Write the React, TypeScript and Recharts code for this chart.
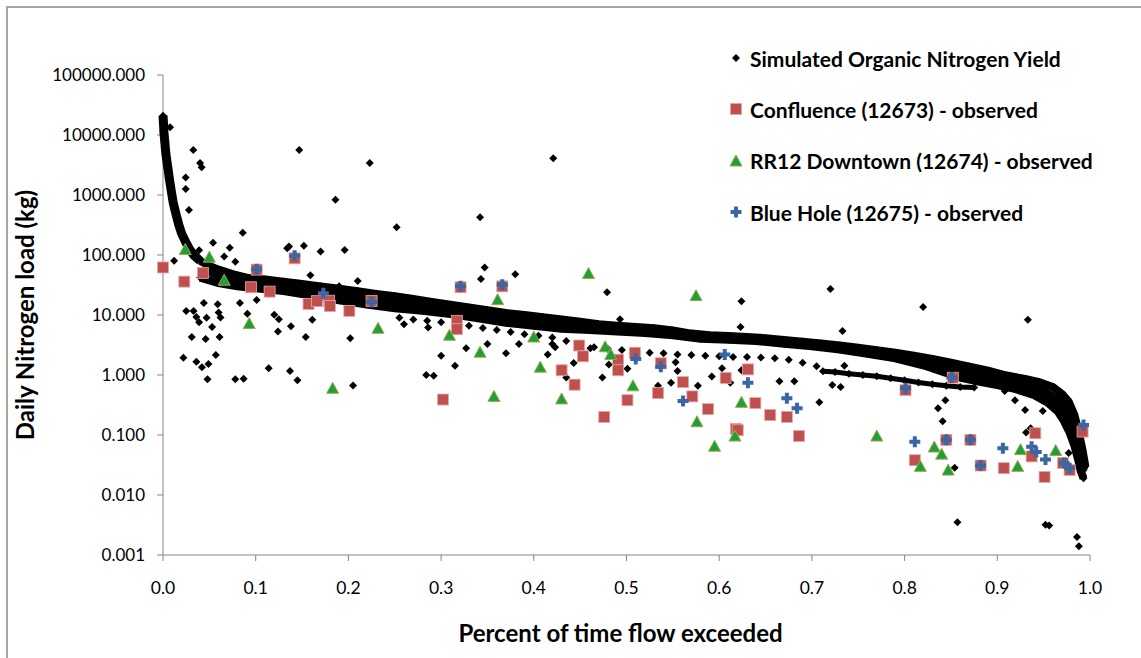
import React from "react";
import { ScatterChart, Scatter, XAxis, YAxis } from "recharts";

const FONT = "Lato, 'Open Sans', sans-serif";

// x = fraction of time the flow is exceeded, y = daily load in kg
const xTicks = [0, 0.1, 0.2, 0.3, 0.4, 0.5, 0.6, 0.7, 0.8, 0.9, 1.0];
const yTicks = [0.001, 0.01, 0.1, 1, 10, 100, 1000, 10000, 100000];

const seriesNames = [
  "Simulated Organic Nitrogen Yield",
  "Confluence (12673) - observed",
  "RR12 Downtown (12674) - observed",
  "Blue Hole (12675) - observed",
];

// simulated: steep head of the duration curve
const simHead = [
  [0.0, 21000], [0.0005, 16000], [0.001, 11000], [0.002, 7500], [0.003, 5000],
  [0.005, 3000], [0.007, 1800], [0.009, 1150], [0.011, 750], [0.014, 480],
  [0.017, 320], [0.02, 230], [0.024, 170], [0.028, 130], [0.033, 100], [0.04, 80],
];

// simulated: top edge of the dense band
const simUpper = [
  [0.04, 80], [0.05, 66], [0.06, 57], [0.075, 48], [0.09, 42], [0.11, 39], [0.13, 36],
  [0.15, 33], [0.17, 30], [0.19, 27.5], [0.21, 25], [0.23, 22.5], [0.25, 20.5],
  [0.27, 18.5], [0.29, 16.5], [0.31, 14.8], [0.33, 13.3], [0.35, 12], [0.37, 10.8],
  [0.39, 10], [0.41, 9.2], [0.43, 8.4], [0.45, 7.7], [0.47, 7.0], [0.49, 6.6],
  [0.51, 6.3], [0.53, 6.0], [0.55, 5.5], [0.57, 4.9], [0.59, 4.6], [0.61, 4.45],
  [0.63, 4.3], [0.65, 4.1], [0.67, 3.85], [0.69, 3.6], [0.71, 3.35], [0.73, 3.1],
  [0.75, 2.85], [0.77, 2.6], [0.79, 2.35], [0.81, 2.1], [0.83, 1.85], [0.85, 1.6],
  [0.87, 1.38], [0.89, 1.18], [0.91, 0.98], [0.93, 0.86], [0.945, 0.76], [0.96, 0.63],
  [0.97, 0.48], [0.977, 0.36], [0.983, 0.22], [0.988, 0.11], [0.992, 0.055], [0.995, 0.03],
];

// simulated: middle of the dense band
const simMid = [
  [0.045, 58], [0.07, 40], [0.1, 34], [0.13, 30], [0.16, 26], [0.19, 22], [0.22, 19.5],
  [0.25, 16.5], [0.28, 14.7], [0.31, 12.5], [0.34, 10.8], [0.37, 9.0], [0.4, 8.0],
  [0.43, 7.0], [0.46, 6.4], [0.49, 5.9], [0.52, 5.5], [0.55, 5.0], [0.58, 4.4],
  [0.61, 4.1], [0.64, 4.0], [0.67, 3.55], [0.7, 3.25], [0.73, 2.85], [0.76, 2.5],
  [0.79, 2.1], [0.82, 1.7], [0.84, 1.4], [0.86, 1.15], [0.88, 0.97], [0.9, 0.84],
  [0.92, 0.72], [0.94, 0.6], [0.955, 0.48], [0.965, 0.38], [0.972, 0.27], [0.978, 0.18],
  [0.983, 0.11], [0.987, 0.065], [0.99, 0.04], [0.993, 0.026],
];

// simulated: bottom edge of the dense band
const simLower = [
  [0.04, 42], [0.06, 34], [0.08, 30], [0.1, 28], [0.13, 25], [0.16, 21], [0.19, 17.5],
  [0.22, 15], [0.25, 13], [0.28, 11.8], [0.31, 10.4], [0.34, 8.8], [0.37, 7.4],
  [0.4, 6.6], [0.43, 5.9], [0.46, 5.6], [0.49, 5.3], [0.52, 5.0], [0.55, 4.6],
  [0.58, 4.0], [0.61, 3.85], [0.64, 3.7], [0.67, 3.3], [0.7, 3.0], [0.73, 2.65],
  [0.76, 2.25], [0.79, 1.9], [0.82, 1.45], [0.84, 1.15], [0.86, 0.9], [0.88, 0.78],
  [0.9, 0.68], [0.92, 0.58], [0.94, 0.46], [0.955, 0.34], [0.965, 0.25], [0.972, 0.17],
  [0.978, 0.11], [0.983, 0.068], [0.987, 0.04], [0.99, 0.025], [0.993, 0.019],
];

// simulated: second, looser layer under the band
const simSub = [
  [0.255, 9.0], [0.27, 8.4], [0.285, 8.0], [0.3, 7.6], [0.315, 7.2], [0.33, 6.6],
  [0.345, 6.1], [0.36, 5.6], [0.375, 5.2], [0.39, 4.8], [0.405, 4.5], [0.42, 4.2],
  [0.435, 3.7], [0.45, 3.3], [0.465, 2.9], [0.48, 2.7], [0.495, 2.6], [0.51, 2.5],
  [0.525, 2.35], [0.54, 2.3], [0.555, 2.2], [0.57, 2.15], [0.585, 2.1], [0.6, 2.05],
  [0.615, 2.0], [0.63, 2.0], [0.645, 1.95], [0.66, 1.9], [0.675, 1.8], [0.69, 1.6],
  [0.705, 1.4],
];

// simulated: lower branch near 1 kg
const simBranch = [
  [0.712, 1.15], [0.725, 1.12], [0.74, 1.05], [0.755, 1.0], [0.77, 0.95], [0.785, 0.88],
  [0.8, 0.82], [0.815, 0.75], [0.83, 0.7], [0.845, 0.66], [0.86, 0.63], [0.875, 0.62],
];

// simulated: scattered days off the band
const simScatter = [
  [0.0076, 13500], [0.0327, 5600], [0.04, 3400], [0.0417, 2900], [0.0245, 1950],
  [0.0245, 1260], [0.028, 560], [0.086, 235], [0.054, 160], [0.039, 120], [0.066, 94],
  [0.072, 132], [0.078, 77], [0.012, 80], [0.147, 5600], [0.223, 3400], [0.186, 830],
  [0.252, 290], [0.134, 130], [0.136, 138], [0.152, 143], [0.17, 114], [0.196, 121],
  [0.056, 61], [0.159, 46], [0.19, 30], [0.21, 37], [0.342, 425], [0.347, 62],
  [0.343, 40], [0.38, 48], [0.421, 4100], [0.479, 24], [0.493, 8.5], [0.624, 17],
  [0.623, 6.3], [0.72, 27], [0.82, 13.6], [0.733, 5.4], [0.933, 8.3],
  [0.022, 1.94], [0.036, 1.66], [0.042, 1.35], [0.049, 1.52], [0.048, 0.85],
  [0.057, 2.15], [0.078, 0.85], [0.087, 0.87], [0.114, 1.29], [0.137, 1.17],
  [0.145, 0.82], [0.031, 4.3], [0.046, 4.0], [0.061, 4.3], [0.053, 6.3], [0.025, 11.7],
  [0.033, 11.7], [0.036, 9.3], [0.039, 7.6], [0.047, 9.0], [0.06, 11], [0.062, 9.1],
  [0.044, 15.8], [0.059, 15.1], [0.091, 10.5], [0.101, 17.8], [0.083, 15.8],
  [0.12, 10.1], [0.125, 8.5], [0.124, 5.3], [0.138, 6.5], [0.154, 4.3], [0.161, 8.3],
  [0.202, 4.1], [0.205, 0.67], [0.26, 7.0], [0.286, 6.2], [0.3, 2.1], [0.315, 1.43],
  [0.284, 1.0], [0.292, 0.97], [0.327, 2.8], [0.35, 3.3], [0.37, 2.3], [0.384, 3.3],
  [0.415, 2.2], [0.42, 3.3], [0.423, 2.9], [0.435, 0.91], [0.443, 1.58], [0.461, 2.8],
  [0.474, 0.91], [0.481, 1.5], [0.501, 1.27], [0.534, 0.66], [0.548, 0.74],
  [0.553, 1.63], [0.555, 1.17], [0.577, 0.66], [0.592, 0.94], [0.603, 1.3],
  [0.612, 0.74], [0.624, 1.2], [0.665, 0.79], [0.681, 0.79], [0.708, 0.35],
  [0.722, 0.68], [0.731, 0.63], [0.735, 1.43], [0.836, 0.28], [0.841, 0.17],
  [0.844, 0.38], [0.908, 0.54], [0.919, 0.38], [0.93, 0.26], [0.949, 0.25],
  [0.931, 0.11], [0.936, 0.13], [0.854, 0.0285], [0.857, 0.0035], [0.952, 0.0032],
  [0.956, 0.0031], [0.986, 0.002], [0.988, 0.0014], [0.977, 0.05],
];

const confluence = [
  [0.0, 62], [0.023, 36], [0.043, 50], [0.095, 29], [0.101, 57], [0.115, 24.5],
  [0.142, 88], [0.157, 15.3], [0.166, 17], [0.179, 17.3], [0.18, 14.1], [0.201, 11.7],
  [0.225, 17.2], [0.302, 0.39], [0.317, 8.0], [0.317, 5.8], [0.321, 29], [0.366, 30],
  [0.43, 1.2], [0.444, 0.69], [0.449, 3.1], [0.453, 2.05], [0.476, 0.2], [0.491, 1.8],
  [0.491, 1.2], [0.501, 0.38], [0.509, 2.35], [0.534, 0.5], [0.537, 1.57], [0.561, 0.76],
  [0.571, 0.44], [0.588, 0.27], [0.607, 0.89], [0.618, 0.126], [0.62, 0.12],
  [0.631, 1.24], [0.639, 0.34], [0.655, 0.215], [0.673, 0.2], [0.686, 0.096],
  [0.801, 0.56], [0.811, 0.038], [0.845, 0.083], [0.852, 0.9], [0.871, 0.083],
  [0.882, 0.031], [0.907, 0.028], [0.937, 0.044], [0.941, 0.107], [0.951, 0.02],
  [0.971, 0.034], [0.978, 0.026], [0.992, 0.114],
];

const rr12 = [
  [0.024, 123], [0.05, 92], [0.066, 38], [0.093, 7.2], [0.183, 0.6], [0.232, 6.0],
  [0.309, 4.6], [0.342, 2.4], [0.357, 0.44], [0.361, 18], [0.4, 4.3], [0.407, 1.35],
  [0.43, 0.4], [0.459, 49], [0.477, 2.95], [0.483, 2.2], [0.507, 0.66], [0.575, 21],
  [0.576, 0.166], [0.595, 0.065], [0.617, 0.096], [0.624, 0.35], [0.77, 0.096],
  [0.817, 0.03], [0.832, 0.063], [0.84, 0.048], [0.847, 0.026], [0.922, 0.03],
  [0.925, 0.057], [0.963, 0.055],
];

const blueHole = [
  [0.101, 58], [0.142, 97], [0.173, 23], [0.225, 16.4], [0.321, 30], [0.366, 32],
  [0.51, 1.85], [0.537, 1.37], [0.561, 0.37], [0.606, 2.2], [0.631, 0.74], [0.673, 0.41],
  [0.684, 0.28], [0.801, 0.6], [0.811, 0.077], [0.845, 0.083], [0.851, 0.91],
  [0.871, 0.083], [0.882, 0.031], [0.906, 0.06], [0.937, 0.064], [0.942, 0.052],
  [0.952, 0.039], [0.972, 0.034], [0.978, 0.028], [0.993, 0.147],
];

const toPts = (rows: number[][]) => rows.map(([x, y]) => ({ x, y }));

const RED = "#C0504D";
const GREEN = "#1F9E3A";
const BLUE = "#3A67A3";
const AXIS = "#868686";

const Diamond = ({ cx, cy }: any) => (
  <path d={`M${cx} ${cy - 4}L${cx + 4} ${cy}L${cx} ${cy + 4}L${cx - 4} ${cy}Z`} fill="#000" />
);
const Square = ({ cx, cy }: any) => (
  <rect x={cx - 5.5} y={cy - 5.5} width={11} height={11} fill={RED} stroke="#E2A9A7" strokeWidth={0.8} />
);
const Triangle = ({ cx, cy }: any) => (
  <path d={`M${cx} ${cy - 6}L${cx + 6} ${cy + 5}L${cx - 6} ${cy + 5}Z`} fill={GREEN} stroke="#9BAA4A" strokeWidth={1} />
);
const Plus = ({ cx, cy }: any) => (
  <path
    d={`M${cx - 2} ${cy - 5.5}h4v3.5h3.5v4h-3.5v3.5h-4v-3.5h-3.5v-4h3.5Z`}
    fill={BLUE}
  />
);

const markers = [Diamond, Square, Triangle, Plus];

function LegendBox() {
  return (
    <div style={{ position: "absolute", left: 726, top: 0, fontFamily: FONT }}>
      {seriesNames.map((name, i) => {
        const M = markers[i];
        return (
          <div
            key={name}
            style={{ position: "absolute", top: 58 + i * 51.4 - 15, left: 0, height: 30, display: "flex", alignItems: "center", whiteSpace: "nowrap" }}
          >
            <svg width={22} height={30}>
              <M cx={10} cy={15} />
            </svg>
            <span style={{ marginLeft: 2, fontSize: 21, fontWeight: 700, color: "#000" }}>{name}</span>
          </div>
        );
      })}
    </div>
  );
}

export default function App() {
  return (
    <div style={{ position: "absolute", left: 0, top: 0, width: 1141, height: 658, overflow: "hidden", background: "#fff" }}>
      <div style={{ position: "absolute", left: 6, top: 6, width: 1200, height: 720, borderLeft: "2px solid #A5A5A5", borderTop: "2px solid #A5A5A5" }} />
      <ScatterChart width={1141} height={658} margin={{ top: 75, right: 51, bottom: 0, left: 0 }} style={{ position: "absolute", left: 0, top: 0 }}>
        <XAxis
          type="number"
          dataKey="x"
          domain={[0, 1]}
          ticks={xTicks}
          tickFormatter={(v: number) => v.toFixed(1)}
          height={103}
          tickSize={6}
          tickMargin={21}
          stroke={AXIS}
          tick={{ fill: "#000", fontSize: 17.5, fontFamily: FONT }}
          label={{
            content: ({ viewBox }: any) => (
              <text x={viewBox.x + viewBox.width / 2 - 6} y={642} textAnchor="middle" fontFamily={FONT} fontSize={24} fontWeight={700} fill="#000">
                Percent of time flow exceeded
              </text>
            ),
          }}
        />
        <YAxis
          type="number"
          dataKey="y"
          scale="log"
          domain={[0.001, 100000]}
          ticks={yTicks}
          tickFormatter={(v: number) => v.toFixed(3)}
          width={163}
          tickSize={6}
          tickMargin={12}
          stroke={AXIS}
          tick={{ fill: "#000", fontSize: 17, fontFamily: FONT }}
          label={{
            content: ({ viewBox }: any) => {
              const cy = viewBox.y + viewBox.height / 2;
              return (
                <text x={34} y={cy} transform={`rotate(-90 34 ${cy})`} textAnchor="middle" fontFamily={FONT} fontSize={24} fontWeight={700} fill="#000">
                  Daily Nitrogen load (kg)
                </text>
              );
            },
          }}
        />
        <Scatter data={toPts(simHead)} shape={Diamond} line={{ stroke: "#000", strokeWidth: 9 }} isAnimationActive={false} />
        <Scatter data={toPts(simUpper)} shape={Diamond} line={{ stroke: "#000", strokeWidth: 8 }} isAnimationActive={false} />
        <Scatter data={toPts(simMid)} shape={Diamond} line={{ stroke: "#000", strokeWidth: 9 }} isAnimationActive={false} />
        <Scatter data={toPts(simLower)} shape={Diamond} line={{ stroke: "#000", strokeWidth: 8 }} isAnimationActive={false} />
        <Scatter data={toPts(simSub)} shape={Diamond} isAnimationActive={false} />
        <Scatter data={toPts(simBranch)} shape={Diamond} line={{ stroke: "#000", strokeWidth: 5 }} isAnimationActive={false} />
        <Scatter data={toPts(simScatter)} shape={Diamond} isAnimationActive={false} />
        <Scatter data={toPts(confluence)} shape={Square} isAnimationActive={false} />
        <Scatter data={toPts(rr12)} shape={Triangle} isAnimationActive={false} />
        <Scatter data={toPts(blueHole)} shape={Plus} isAnimationActive={false} />
      </ScatterChart>
      <LegendBox />
    </div>
  );
}
